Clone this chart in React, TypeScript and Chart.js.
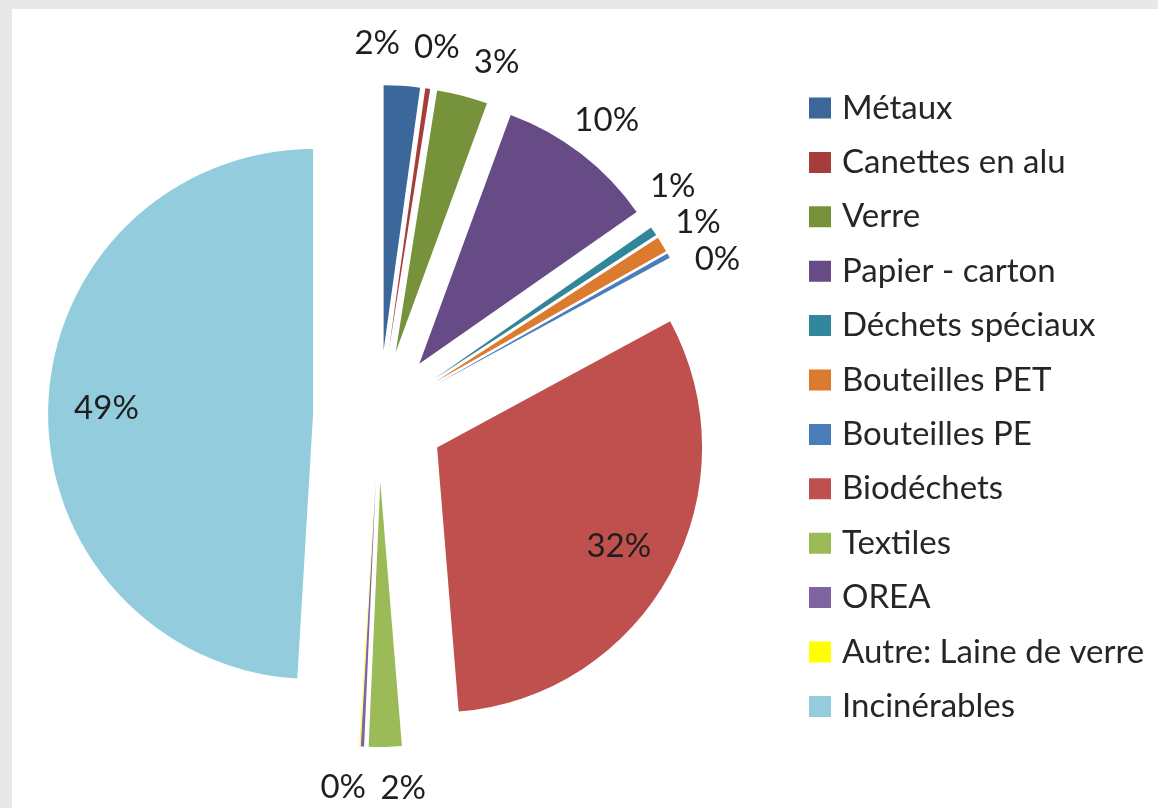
import React, { useEffect, useRef } from 'react';
import { Chart, registerables, DoughnutController } from 'chart.js';

Chart.register(...registerables);

const categories = [
  'Métaux',
  'Canettes en alu',
  'Verre',
  'Papier - carton',
  'Déchets spéciaux',
  'Bouteilles PET',
  'Bouteilles PE',
  'Biodéchets',
  'Textiles',
  'OREA',
  'Autre: Laine de verre',
  'Incinérables',
];
const shares = [2.2, 0.3, 3.1, 9.7, 0.55, 0.95, 0.3, 31.6, 2.0, 0.2, 0.05, 49.05];
const colors = [
  '#3c679b',
  '#a73d3b',
  '#76933c',
  '#664b86',
  '#31869b',
  '#dc7b2e',
  '#4a7ebb',
  '#c0504d',
  '#9bbb59',
  '#8064a2',
  '#ffff00',
  '#93cddd',
];
const labelShown = [true, true, true, true, true, true, true, true, true, true, false, true];

const EXPLODE = 66;
const RADIUS = 265;
const LABEL_DIST = 373;
const FONT = 'Lato';
const FONT_SIZE = 33;
const GAP_X = 14;
const GAP_Y = 10;

const CANVAS_LEFT = -35;
const CANVAS_W = 1400;
const CANVAS_H = 808;
const LEGEND_PAD = 21.4;
const BOX_W = 11;
const BOX_H = 10;
const BOX_LINE = 11;
const LEGEND_LEFT = 828.1; // canvas coords

const explodePlugin = {
  id: 'explodeSlices',
  beforeDatasetsDraw(chart: any) {
    chart.getDatasetMeta(0).data.forEach((arc: any) => {
      if (arc.__exploded) return;
      const orig = arc.draw.bind(arc);
      arc.draw = (ctx: CanvasRenderingContext2D, area: any) => {
        const mid = (arc.startAngle + arc.endAngle) / 2;
        ctx.save();
        ctx.translate(Math.cos(mid) * EXPLODE, Math.sin(mid) * EXPLODE);
        orig(ctx, area);
        ctx.restore();
      };
      arc.__exploded = true;
    });
  },
};

const labelPlugin = {
  id: 'sliceLabels',
  afterDatasetsDraw(chart: any) {
    const meta = chart.getDatasetMeta(0);
    const data = chart.data.datasets[0].data as number[];
    const total = data.reduce((a, b) => a + b, 0);
    const ctx: CanvasRenderingContext2D = chart.ctx;
    ctx.save();
    ctx.font = `${FONT_SIZE}px ${FONT}`;
    ctx.fillStyle = '#1e1e1e';
    ctx.textAlign = 'center';
    ctx.textBaseline = 'middle';
    const items: any[] = [];
    meta.data.forEach((arc: any, i: number) => {
      if (!labelShown[i]) return;
      const pct = (data[i] / total) * 100;
      const text = Math.round(pct) + '%';
      items.push({
        text,
        angle: (arc.startAngle + arc.endAngle) / 2,
        inside: pct >= 20,
        w: ctx.measureText(text).width,
        x: arc.x,
        y: arc.y,
        r: arc.outerRadius,
      });
    });
    const outside = items.filter((it) => !it.inside);
    const h = FONT_SIZE * 0.8;
    const pos = (it: any) => ({
      px: it.x + Math.cos(it.angle) * LABEL_DIST,
      py: it.y + Math.sin(it.angle) * LABEL_DIST,
    });
    for (let iter = 0; iter < 1000; iter++) {
      let moved = false;
      for (let k = 0; k < outside.length - 1; k++) {
        const a = outside[k];
        const b = outside[k + 1];
        const pa = pos(a);
        const pb = pos(b);
        if (
          Math.abs(pa.px - pb.px) < (a.w + b.w) / 2 + GAP_X &&
          Math.abs(pa.py - pb.py) < h + GAP_Y
        ) {
          a.angle -= 0.002;
          b.angle += 0.002;
          moved = true;
        }
      }
      if (!moved) break;
    }
    items.forEach((it) => {
      const d = it.inside ? EXPLODE + it.r * 0.78 : LABEL_DIST;
      ctx.fillText(it.text, it.x + Math.cos(it.angle) * d, it.y + Math.sin(it.angle) * d);
    });
    ctx.restore();
  },
};

const baseGen = (DoughnutController as any).overrides.plugins.legend.labels.generateLabels;

export default function App() {
  const ref = useRef<HTMLCanvasElement>(null);
  useEffect(() => {
    document.body.style.margin = '0';
    const mctx = document.createElement('canvas').getContext('2d')!;
    mctx.font = `${FONT_SIZE}px ${FONT}`;
    const maxTextW = Math.max(...categories.map((c) => mctx.measureText(c).width));
    const legendW = LEGEND_PAD + BOX_W + FONT_SIZE / 2 + maxTextW + 10;
    const padRight = CANVAS_W - LEGEND_LEFT - legendW;

    const chart = new Chart(ref.current!, {
      type: 'pie',
      data: {
        labels: categories,
        datasets: [
          {
            data: shares,
            backgroundColor: colors,
            borderWidth: 0,
            radius: RADIUS,
            clip: false,
          } as any,
        ],
      },
      options: {
        responsive: false,
        animation: false,
        devicePixelRatio: 1,
        events: [],
        layout: { padding: { left: 0, top: 70.1, right: padRight, bottom: 46.1 } },
        plugins: {
          tooltip: { enabled: false },
          legend: {
            position: 'right',
            align: 'start',
            labels: {
              boxWidth: BOX_W,
              boxHeight: BOX_H,
              padding: LEGEND_PAD,
              color: '#262626',
              font: { family: FONT, size: FONT_SIZE },
              generateLabels: (c: any) =>
                baseGen(c).map((l: any) => ({ ...l, strokeStyle: l.fillStyle, lineWidth: BOX_LINE })),
            },
          },
        },
      } as any,
      plugins: [explodePlugin, labelPlugin],
    });
    return () => chart.destroy();
  }, []);
  return (
    <div
      style={{
        position: 'fixed',
        left: 0,
        top: 0,
        width: 1158,
        height: 808,
        background: '#e9e8e6',
        overflow: 'hidden',
      }}
    >
      <div style={{ position: 'absolute', left: 12, top: 9, right: 0, bottom: 0, background: '#ffffff' }} />
      <canvas
        ref={ref}
        width={CANVAS_W}
        height={CANVAS_H}
        style={{ position: 'absolute', left: CANVAS_LEFT, top: 0, width: CANVAS_W, height: CANVAS_H }}
      />
    </div>
  );
}
